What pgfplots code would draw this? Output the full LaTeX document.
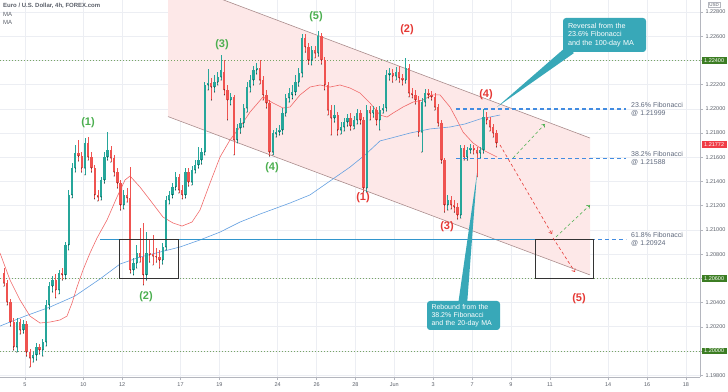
\documentclass[border=0pt]{standalone}
\usepackage{fontspec}
\setmainfont{Liberation Sans}
\usepackage{pgfplots}
\usepackage{pgfplotstable}
\pgfplotsset{compat=1.18}
\usetikzlibrary{arrows.meta}

\definecolor{cup}{RGB}{38,166,154}
\definecolor{cdn}{RGB}{239,83,80}
\definecolor{mared}{RGB}{240,105,105}
\definecolor{mablue}{RGB}{100,160,225}
\definecolor{chfill}{RGB}{253,232,232}
\definecolor{chline}{RGB}{170,140,140}
\definecolor{callout}{RGB}{56,168,184}
\definecolor{lgreen}{RGB}{76,175,80}
\definecolor{lred}{RGB}{229,57,53}
\definecolor{levdash}{RGB}{66,140,225}
\definecolor{levsolid}{RGB}{50,150,205}
\definecolor{fibtxt}{RGB}{95,105,125}
\definecolor{dotgreen}{RGB}{120,165,100}
\definecolor{boxgreen}{RGB}{60,125,35}
\definecolor{boxred}{RGB}{240,60,70}
\definecolor{gridc}{RGB}{236,238,243}
\definecolor{axc}{RGB}{180,182,190}
\definecolor{txtc}{RGB}{90,95,105}

% t = 4h bar index (0 = first bar of 5 May), u = 1 up / 0 down
\pgfplotstableread{
t u O H L C
-7 0 1.20644 1.20685 1.20536 1.20561
-6 0 1.20561 1.20586 1.20380 1.20404
-5 0 1.20404 1.20430 1.20206 1.20239
-4 0 1.20239 1.20272 1.20008 1.20033
-3 1 1.20033 1.20272 1.19991 1.20239
-2 0 1.20239 1.20264 1.20140 1.20173
-1 1 1.20173 1.20256 1.20148 1.20223
0 0 1.20223 1.20248 1.19958 1.19991
1 0 1.19991 1.20017 1.19867 1.19942
2 1 1.19942 1.19991 1.19908 1.19967
3 1 1.19967 1.20066 1.19925 1.20033
4 0 1.20033 1.20058 1.19975 1.20008
5 1 1.20008 1.20099 1.19958 1.20074
6 1 1.20074 1.20421 1.20041 1.20380
7 1 1.20380 1.20569 1.20347 1.20536
8 1 1.20536 1.20619 1.20487 1.20586
9 0 1.20586 1.20636 1.20438 1.20504
10 1 1.20504 1.20669 1.20471 1.20644
11 0 1.20644 1.20685 1.20586 1.20628
12 1 1.20628 1.20900 1.20595 1.20876
13 1 1.20876 1.21330 1.20834 1.21289
14 1 1.21289 1.21552 1.21264 1.21511
15 1 1.21511 1.21702 1.21478 1.21635
16 0 1.21635 1.21743 1.21569 1.21610
17 0 1.21610 1.21643 1.21478 1.21511
18 1 1.21511 1.21759 1.21454 1.21718
19 0 1.21718 1.21767 1.21577 1.21602
20 0 1.21602 1.21643 1.21478 1.21511
21 0 1.21511 1.21536 1.21256 1.21289
22 0 1.21289 1.21330 1.21239 1.21272
23 1 1.21272 1.21437 1.21247 1.21412
24 1 1.21412 1.21643 1.21387 1.21602
25 1 1.21602 1.21808 1.21577 1.21660
26 0 1.21660 1.21693 1.21560 1.21594
27 0 1.21594 1.21619 1.21445 1.21478
28 0 1.21478 1.21511 1.21346 1.21387
29 0 1.21387 1.21412 1.21164 1.21206
30 1 1.21206 1.21330 1.21173 1.21289
31 0 1.21289 1.21346 1.21230 1.21264
32 0 1.21264 1.21519 1.20644 1.20669
33 1 1.20669 1.20768 1.20628 1.20726
34 1 1.20726 1.20876 1.20685 1.20809
35 0 1.20809 1.21016 1.20734 1.20776
36 0 1.20776 1.21057 1.20545 1.20628
37 1 1.20628 1.20982 1.20586 1.20809
38 0 1.20809 1.20917 1.20734 1.20793
39 0 1.20801 1.20958 1.20710 1.20784
40 0 1.20784 1.20851 1.20734 1.20776
41 0 1.20776 1.20834 1.20685 1.20751
42 1 1.20751 1.20892 1.20718 1.20859
43 1 1.20859 1.21280 1.20834 1.21247
44 1 1.21247 1.21322 1.21214 1.21289
45 1 1.21289 1.21387 1.21264 1.21354
46 1 1.21354 1.21478 1.21330 1.21437
47 0 1.21437 1.21462 1.21305 1.21330
48 0 1.21330 1.21371 1.21256 1.21289
49 1 1.21289 1.21511 1.21264 1.21478
50 0 1.21478 1.21511 1.21362 1.21395
51 1 1.21395 1.21527 1.21371 1.21495
52 1 1.21495 1.21577 1.21470 1.21536
53 1 1.21536 1.21685 1.21511 1.21577
54 1 1.21577 1.21677 1.21544 1.21643
55 1 1.21643 1.22221 1.21619 1.22197
56 1 1.22197 1.22329 1.22156 1.22213
57 0 1.22213 1.22255 1.22073 1.22180
58 1 1.22180 1.22280 1.22139 1.22221
59 1 1.22221 1.22304 1.22197 1.22263
60 1 1.22263 1.22445 1.22238 1.22321
61 0 1.22304 1.22403 1.22115 1.22156
62 0 1.22156 1.22197 1.21908 1.22073
63 1 1.22073 1.22131 1.22032 1.22098
64 0 1.22098 1.22115 1.21619 1.21743
65 1 1.21743 1.21875 1.21718 1.21842
66 1 1.21842 1.21924 1.21800 1.21883
67 1 1.21883 1.22040 1.21850 1.22007
68 1 1.22007 1.22221 1.21973 1.22180
69 1 1.22180 1.22280 1.22139 1.22238
70 1 1.22238 1.22353 1.22197 1.22321
71 1 1.22321 1.22378 1.22288 1.22337
72 0 1.22337 1.22403 1.22205 1.22238
73 0 1.22238 1.22271 1.22073 1.22115
74 0 1.22115 1.22156 1.22007 1.22048
75 0 1.22048 1.22073 1.21610 1.21643
76 1 1.21643 1.21825 1.21619 1.21800
77 1 1.21792 1.21842 1.21767 1.21808
78 1 1.21808 1.21867 1.21784 1.21825
79 1 1.21825 1.22007 1.21792 1.21965
80 1 1.21965 1.22123 1.21940 1.22090
81 1 1.22090 1.22172 1.22056 1.22131
82 1 1.22115 1.22197 1.22082 1.22139
83 1 1.22139 1.22280 1.22115 1.22221
84 1 1.22221 1.22337 1.22188 1.22296
85 1 1.22296 1.22618 1.22263 1.22585
86 0 1.22585 1.22618 1.22469 1.22511
87 0 1.22511 1.22544 1.22370 1.22403
88 1 1.22403 1.22519 1.22362 1.22486
89 0 1.22486 1.22519 1.22420 1.22461
90 1 1.22461 1.22643 1.22436 1.22601
91 0 1.22601 1.22626 1.22370 1.22403
92 0 1.22403 1.22428 1.22156 1.22197
93 0 1.22197 1.22221 1.21949 1.21990
94 0 1.21990 1.22032 1.21784 1.21924
95 1 1.21924 1.22032 1.21891 1.21949
96 0 1.21949 1.21973 1.21784 1.21825
97 1 1.21825 1.21891 1.21792 1.21850
98 1 1.21850 1.21924 1.21817 1.21891
99 1 1.21891 1.21957 1.21858 1.21924
100 0 1.21924 1.21965 1.21825 1.21858
101 1 1.21858 1.21940 1.21834 1.21908
102 1 1.21908 1.21999 1.21875 1.21965
103 0 1.21965 1.21990 1.21875 1.21908
104 0 1.21908 1.21932 1.21313 1.21346
105 1 1.21346 1.22032 1.21313 1.21990
106 0 1.21990 1.22023 1.21908 1.21965
107 1 1.21965 1.22023 1.21932 1.21990
108 0 1.21990 1.22015 1.21867 1.21908
109 1 1.21908 1.22023 1.21825 1.21990
110 1 1.21990 1.22040 1.21965 1.22007
111 1 1.22007 1.22321 1.21982 1.22280
112 1 1.22280 1.22337 1.22238 1.22296
113 0 1.22296 1.22329 1.22221 1.22271
114 1 1.22271 1.22345 1.22238 1.22304
115 0 1.22304 1.22353 1.22221 1.22255
116 0 1.22255 1.22288 1.22197 1.22238
117 1 1.22238 1.22420 1.22213 1.22337
118 0 1.22337 1.22370 1.22098 1.22131
119 0 1.22131 1.22172 1.22090 1.22115
120 0 1.22115 1.22156 1.22040 1.22073
121 0 1.22073 1.22106 1.21775 1.21808
122 1 1.21808 1.22090 1.21643 1.22056
123 1 1.22056 1.22164 1.22023 1.22131
124 0 1.22131 1.22164 1.22090 1.22115
125 0 1.22115 1.22148 1.22073 1.22098
126 0 1.22098 1.22131 1.21990 1.22015
127 0 1.22015 1.22040 1.21858 1.21883
128 0 1.21883 1.21908 1.21552 1.21577
129 0 1.21577 1.21594 1.21147 1.21206
130 1 1.21206 1.21289 1.21164 1.21247
131 0 1.21247 1.21280 1.21173 1.21206
132 0 1.21206 1.21247 1.21147 1.21189
133 0 1.21189 1.21222 1.21090 1.21123
134 1 1.21123 1.21702 1.21098 1.21677
135 0 1.21677 1.21702 1.21577 1.21602
136 1 1.21602 1.21685 1.21577 1.21660
137 1 1.21660 1.21710 1.21635 1.21677
138 0 1.21677 1.21702 1.21627 1.21660
139 0 1.21660 1.21685 1.21437 1.21635
140 1 1.21635 1.21685 1.21594 1.21660
141 1 1.21660 1.21999 1.21635 1.21932
142 0 1.21932 1.21973 1.21875 1.21908
143 0 1.21908 1.21932 1.21817 1.21850
144 0 1.21850 1.21875 1.21767 1.21800
145 0 1.21800 1.21825 1.21685 1.21718
}\candles

\tikzset{
  lblG/.style={text=lgreen, font=\fontsize{11}{12}\selectfont\bfseries},
  lblR/.style={text=lred, font=\fontsize{11}{12}\selectfont\bfseries},
  fibt/.style={text=fibtxt, font=\fontsize{7}{8}\selectfont, align=left, anchor=west, inner sep=0pt},
  call/.style={fill=callout, text=white, rounded corners=3pt, align=left, inner ysep=2pt},
  rbox/.style={text=white, font=\fontsize{5.5}{6}\selectfont, inner xsep=2.5pt, inner ysep=1.5pt, anchor=west, xshift=1.5pt}
}
\pgfplotsset{
  candle/.style n args={2}{only marks, mark=*, mark size=0.2pt,
    mark options={draw=none, fill=none}, forget plot,
    restrict expr to domain={\thisrow{u}}{#1},
    error bars/.cd, y dir=plus, y explicit, error mark=none,
    error bar style={#2}},
  level/.style={draw=#1, line width=1.1pt, mark=none, forget plot},
}

\begin{document}
\begin{tikzpicture}
\path[use as bounding box] (0pt,-14pt) rectangle (728pt,377pt);
\begin{axis}[
  at={(0pt,0pt)}, anchor=south west,
  scale only axis, width=700pt, height=377pt,
  xmin=-7.72, xmax=208.33, ymin=1.19785, ymax=1.22899,
  axis x line*=bottom, axis y line*=right,
  axis line style={axc, line width=0.6pt},
  clip mode=individual,
  xtick={0,18,30,48,60,78,90,102,114,126,138,150,162,180,192,204},
  xticklabels={5,10,12,17,19,24,26,28,Jun,3,7,9,11,14,16,18},
  ytick={1.198,1.200,1.202,1.204,1.206,1.208,1.210,1.212,1.214,1.216,1.218,1.220,1.222,1.224,1.226,1.228},
  yticklabels={1.19800,{},1.20200,1.20400,{},1.20800,1.21000,1.21200,1.21400,1.21600,1.21800,1.22000,1.22200,{},1.22600,1.22800},
  grid=major, major grid style={gridc, line width=0.6pt},
  tick align=outside, major tick length=3pt,
  tick style={axc, line width=0.5pt},
  yticklabel style={font=\fontsize{5.5}{6}\selectfont, text=txtc, xshift=-1pt},
  xticklabel style={font=\fontsize{5.5}{6}\selectfont, text=txtc, yshift=1pt},
]

% descending channel
\addplot[fill=chfill, draw=none, forget plot] coordinates {(44.14,1.23072) (174.38,1.21759) (174.38,1.20628) (44.14,1.21936)};
\addplot[color=chline, line width=0.6pt, forget plot] coordinates {(44.14,1.23072) (174.38,1.21759)};
\addplot[color=chline, line width=0.6pt, forget plot] coordinates {(44.14,1.21936) (174.38,1.20628)};

% horizontal levels
\addplot[color=dotgreen, line width=0.8pt, dash pattern=on 1pt off 2pt, forget plot] coordinates {(-7.72,1.224) (208.33,1.224)};
\addplot[color=dotgreen, line width=0.8pt, dash pattern=on 1pt off 2pt, forget plot] coordinates {(-7.72,1.206) (208.33,1.206)};
\addplot[color=dotgreen, line width=0.8pt, dash pattern=on 1pt off 2pt, forget plot] coordinates {(-7.72,1.200) (208.33,1.200)};

% moving averages
\addplot[color=mablue, line width=0.6pt, forget plot] coordinates {
(-7.72,1.20206) (0,1.20288) (7.72,1.20363) (15.43,1.20454) (23.15,1.20595) (29.32,1.20718)
(35.49,1.20776) (41.67,1.20817) (47.84,1.20859) (54.01,1.20917) (60.19,1.20982) (66.36,1.21065)
(72.53,1.21131) (81.79,1.21222) (87.96,1.21289) (94.14,1.21404) (100.31,1.21519) (104.94,1.21619)
(109.57,1.21735) (114.20,1.21767) (118.83,1.21800) (125.00,1.21834) (131.17,1.21850) (135.80,1.21875)
(140.43,1.21916) (146.60,1.21949)};
\addplot[color=mared, line width=0.6pt, forget plot] coordinates {
(-7.72,1.20809) (-4.63,1.20586) (-1.54,1.20421) (1.54,1.20288) (4.63,1.20231) (7.72,1.20239)
(10.80,1.20256) (12.96,1.20288) (14.51,1.20396) (16.05,1.20528) (17.90,1.20669) (20.06,1.20809)
(22.22,1.20933) (25.31,1.21082) (28.40,1.21272) (30.86,1.21412) (32.41,1.21445) (35.49,1.21354)
(38.58,1.21247) (42.59,1.21106) (45.68,1.21057) (48.46,1.21032) (51.54,1.21065) (54.01,1.21164)
(57.10,1.21387) (60.19,1.21602) (63.27,1.21743) (66.36,1.21850) (69.44,1.21973) (73.46,1.22098)
(76.54,1.22048) (79.63,1.22007) (81.79,1.22015) (84.88,1.22115) (87.96,1.22180) (91.05,1.22197)
(94.14,1.22180) (97.22,1.22197) (100.31,1.22172) (103.40,1.22131) (106.48,1.22048) (109.57,1.21949)
(111.73,1.21932) (113.58,1.21965) (116.67,1.22015) (119.75,1.22056) (122.84,1.22073) (125.62,1.22115)
(128.09,1.22115) (131.17,1.22015) (133.33,1.21908) (135.19,1.21808) (138.27,1.21718) (141.36,1.21660)
(145.68,1.21602)};

% candles: wicks
\addplot[candle={0.5:1.5}{draw=cup, line width=0.7pt}]
  table[x expr=\thisrow{t}+0.5, y=L, y error plus expr=\thisrow{H}-\thisrow{L}] {\candles};
\addplot[candle={-0.5:0.5}{draw=cdn, line width=0.7pt}]
  table[x expr=\thisrow{t}+0.5, y=L, y error plus expr=\thisrow{H}-\thisrow{L}] {\candles};
% candles: bodies
\addplot[candle={0.5:1.5}{draw=cup, line width=2.3pt}]
  table[x expr=\thisrow{t}+0.5, y=O, y error plus expr=\thisrow{C}-\thisrow{O}] {\candles};
\addplot[candle={-0.5:0.5}{draw=cdn, line width=2.3pt}]
  table[x expr=\thisrow{t}+0.5, y=C, y error plus expr=\thisrow{O}-\thisrow{C}] {\candles};

% Fibonacci levels
\addplot[level=levsolid] coordinates {(23.15,1.20924) (157.41,1.20924)};
\addplot[level=levdash, dash pattern=on 4pt off 3pt] coordinates {(157.41,1.20924) (185.5,1.20924)};
\addplot[level=levdash, dash pattern=on 4pt off 3pt] coordinates {(133.02,1.21999) (185.5,1.21999)};
\addplot[level=levdash, dash pattern=on 4pt off 3pt] coordinates {(133.02,1.21588) (185.5,1.21588)};

% boxes
\addplot[draw=black!80, line width=0.8pt, forget plot] coordinates {(29.01,1.20924) (47.22,1.20924) (47.22,1.20600) (29.01,1.20600) (29.01,1.20924)};
\addplot[draw=black!80, line width=0.8pt, forget plot] coordinates {(157.41,1.20924) (175.31,1.20924) (175.31,1.20600) (157.41,1.20600) (157.41,1.20924)};

% projections
\addplot[color=lred, line width=0.6pt, dash pattern=on 3pt off 2.5pt, -{Straight Barb[length=2.5pt,width=4pt]}, forget plot] coordinates {(146.60,1.21702) (162.65,1.20966)};
\addplot[color=lred, line width=0.6pt, dash pattern=on 3pt off 2.5pt, -{Straight Barb[length=2.5pt,width=4pt]}, forget plot] coordinates {(162.96,1.20933) (169.75,1.20652)};
\addplot[color=lgreen, line width=0.6pt, dash pattern=on 3pt off 2.5pt, -{Straight Barb[length=2.5pt,width=4pt]}, forget plot] coordinates {(150.62,1.21594) (160.49,1.21875)};
\addplot[color=lgreen, line width=0.6pt, dash pattern=on 3pt off 2.5pt, -{Straight Barb[length=2.5pt,width=4pt]}, forget plot] coordinates {(163.89,1.20942) (174.38,1.21206)};

% callout pointers
\addplot[fill=callout, draw=none, forget plot] coordinates {(145.68,1.22015) (166.98,1.22511) (169.44,1.22461)};
\addplot[fill=callout, draw=none, forget plot] coordinates {(139.51,1.21470) (133.64,1.20380) (136.42,1.20380)};

% callouts
\node[call, font=\fontsize{7.2}{8.6}\selectfont, text width=73pt, inner xsep=5pt, minimum height=34pt] at (axis cs:178.86,1.22610) {Reversal from the\\23.6\% Fibonacci\\and the 100-day MA};
\node[call, font=\fontsize{7}{8.2}\selectfont, text width=64pt, inner xsep=4.5pt, minimum height=29pt] at (axis cs:135.34,1.20293) {Rebound from the\\38.2\% Fibonacci\\and the 20-day MA};

% Fibonacci texts
\node[fibt] at (axis cs:187.04,1.21999) {23.6\% Fibonacci\\@ 1.21999};
\node[fibt] at (axis cs:187.04,1.21588) {38.2\% Fibonacci\\@ 1.21588};
\node[fibt] at (axis cs:187.04,1.20924) {61.8\% Fibonacci\\@ 1.20924};

% wave labels
\node[lblG] at (axis cs:19.44,1.21883) {(1)};
\node[lblG] at (axis cs:37.35,1.20446) {(2)};
\node[lblG] at (axis cs:60.80,1.22527) {(3)};
\node[lblG] at (axis cs:76.23,1.21511) {(4)};
\node[lblG] at (axis cs:89.81,1.22759) {(5)};
\node[lblR] at (axis cs:104.32,1.21264) {(1)};
\node[lblR] at (axis cs:117.90,1.22651) {(2)};
\node[lblR] at (axis cs:130.25,1.21024) {(3)};
\node[lblR] at (axis cs:142.28,1.22115) {(4)};
\node[lblR] at (axis cs:170.99,1.20430) {(5)};

% title
\node[anchor=north west, align=left, text=txtc, font=\fontsize{6}{8.5}\selectfont, inner sep=0pt] at (rel axis cs:0,1) [xshift=3pt, yshift=-3pt] {\textbf{Euro / U.S. Dollar, 4h, FOREX.com}\\MA\\MA};

% right price labels
\node[rbox, fill=boxgreen] at (axis cs:208.33,1.224) {1.22400};
\node[rbox, fill=boxgreen] at (axis cs:208.33,1.206) {1.20600};
\node[rbox, fill=boxgreen] at (axis cs:208.33,1.200) {1.20000};
\node[rbox, fill=boxred] at (axis cs:208.33,1.21702) {1.21772};
\node[draw=axc, text=txtc, font=\fontsize{4.5}{5}\selectfont, inner sep=1pt, anchor=north] at (rel axis cs:1,1) [xshift=14pt, yshift=-2pt] {USD};
\end{axis}
\end{tikzpicture}
\end{document}
